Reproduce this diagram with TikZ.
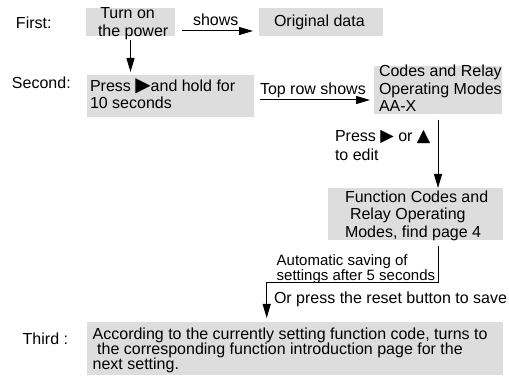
\documentclass[tikz,border=0pt]{standalone}
\usepackage{fontspec}
\setmainfont{Liberation Sans}
\newfontfamily\symfont{DejaVu Sans}
\usetikzlibrary{arrows.meta}
\definecolor{boxgray}{RGB}{221,221,221}
\newcommand\rtri[1]{{\symfont\fontsize{#1}{#1}\selectfont ▶}}
\newcommand\utri[1]{{\symfont\fontsize{#1}{#1}\selectfont ▲}}
\newcommand\mlines[2]{\vtop{\baselineskip=#1\relax #2}}
\begin{document}
\begin{tikzpicture}[x=1pt,y=-1pt,
  box/.style={fill=boxgray, draw=none, inner sep=0pt, outer sep=0pt},
  txt/.style={anchor=base west, inner sep=0pt, outer sep=0pt, font=\fontsize{16}{17.5}\selectfont},
  small/.style={txt, font=\fontsize{15}{15}\selectfont},
  arr/.style={-{Triangle[length=14pt,width=8pt]}, line width=1pt},
  ln/.style={line width=1pt}]
\useasboundingbox (0,0) rectangle (509,382);
% boxes
\node[box, minimum width=89pt, minimum height=28pt] (power) at (130.5,22) {};
\node[box, minimum width=124pt, minimum height=28pt] (orig) at (321,22) {};
\node[box, minimum width=167pt, minimum height=42pt] (press) at (170.5,96) {};
\node[box, minimum width=128pt, minimum height=48pt] (codes) at (438,90) {};
\node[box, minimum width=175pt, minimum height=52pt] (func) at (415.5,214) {};
\node[box, minimum width=416pt, minimum height=53pt] (bottom) at (295,348.5) {};
% step labels
\node[txt] (lfirst) at (16,28.3) {First:};
\node[txt] (lsecond) at (12,88.3) {Second:};
\node[txt] (lthird) at (22.7,344) {Third :};
% texts
\node[txt] (tpower) at (98,19) {\mlines{17.5pt}{\hbox{\hspace{2.3pt}Turn on}\hbox{the power}}};
\node[txt] (tshows) at (193,26) {shows};
\node[txt] (torig) at (274,27) {Original data};
\node[txt] (tpress) at (90,91.7) {\mlines{17.3pt}{\hbox{Press \rtri{20}and hold for}\hbox{10 seconds}}};
\node[txt] (ttop) at (260,94.3) {Top row shows};
\node[txt] (tcodes) at (379,77) {\mlines{17.5pt}{\hbox{Codes and Relay}\hbox{Operating Modes}\hbox{AA-X}}};
\node[txt] (tedit) at (335,141.5) {\mlines{19pt}{\hbox{Press \rtri{17.5} or \utri{17.5}}\hbox{to edit}}};
\node[txt] (tfunc) at (345,202.7) {\mlines{17.3pt}{\hbox{Function Codes and}\hbox{\hspace{5pt}Relay Operating}\hbox{Modes, find page 4}}};
\node[small] (tauto) at (276.7,266) {\mlines{15pt}{\hbox{Automatic saving of}\hbox{settings after 5 seconds}}};
\node[txt] (tor) at (274,304) {Or press the reset button to save};
\node[txt] (tthird) at (92.7,339) {\mlines{15pt}{\hbox{According to the currently setting function code, turns to}\hbox{\hspace{4.5pt}the corresponding function introduction page for the}\hbox{next setting.}}};
% connectors
\draw[arr, shorten <=4pt, shorten >=3pt] (power.south) -- (power.south |- press.north);
\draw[arr, shorten <=7pt, shorten >=6pt] (power.east |- 0,31) -- (orig.west |- 0,31);
\draw[arr, shorten <=6pt, shorten >=4pt] (press.east |- 0,100) -- (codes.west |- 0,100);
\draw[arr, shorten <=6pt] (codes.south) -- (codes.south |- func.north);
\coordinate (turn) at (266.7,283);
\draw[arr, shorten <=6pt, shorten >=4pt] (func.south -| 438.5,0) |- (turn) -- (turn |- bottom.north);
\end{tikzpicture}
\end{document}
